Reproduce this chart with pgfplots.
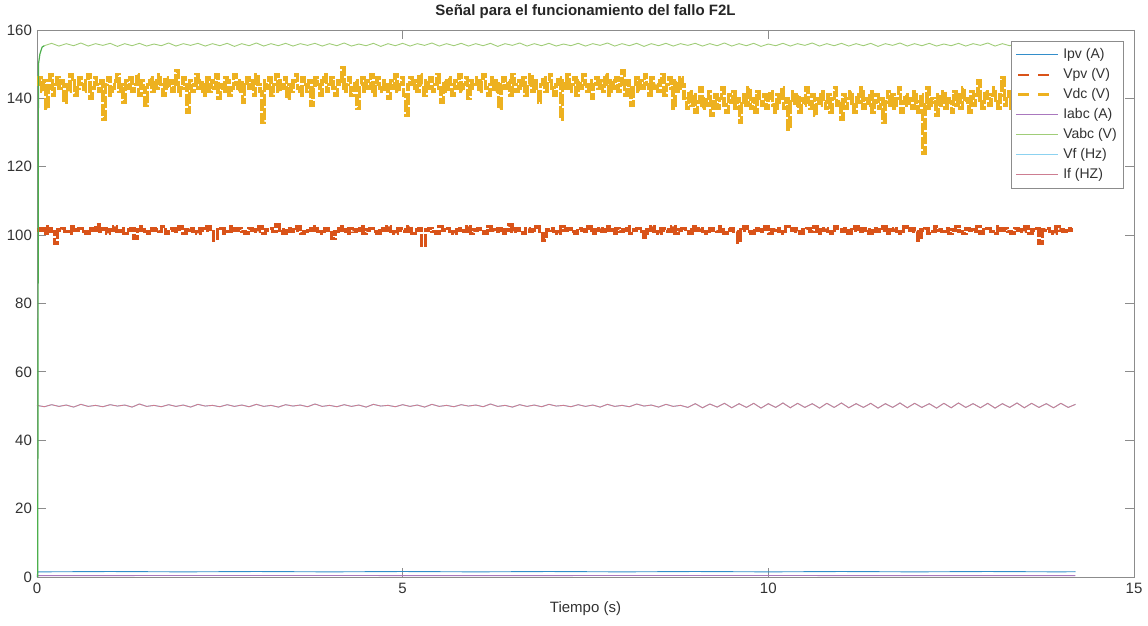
\documentclass[border=0pt]{standalone}
\usepackage{pgfplots}
\pgfplotsset{compat=1.18}
\usepackage{pgfplotstable}
\usepackage{fontspec}
\setmainfont{Liberation Sans}
\definecolor{cIpv}{RGB}{0,114,189}
\definecolor{cVpv}{RGB}{217,83,25}
\definecolor{cVdc}{RGB}{237,177,32}
\definecolor{cIabc}{RGB}{170,120,190}
\definecolor{cVabc}{RGB}{160,205,120}
\definecolor{cVf}{RGB}{140,210,240}
\definecolor{cIf}{RGB}{205,125,145}
\definecolor{axgray}{RGB}{140,140,140}
\definecolor{txtgray}{RGB}{50,50,50}

% Vabc ripple, dt = 0.1 s from 0.1 s
\pgfplotstableread[header=false,row sep=\\]{
155.4\\156.1\\155.3\\156.0\\155.4\\156.2\\155.3\\156.0\\155.5\\156.1\\
155.2\\156.0\\155.4\\156.1\\155.3\\155.9\\155.4\\156.2\\155.3\\156.0\\
155.5\\156.1\\155.3\\156.0\\155.4\\156.1\\155.2\\156.0\\155.4\\156.2\\
155.3\\156.0\\155.4\\156.1\\155.3\\156.0\\155.5\\156.1\\155.3\\156.0\\
155.4\\156.2\\155.3\\155.9\\155.4\\156.1\\155.2\\156.0\\155.4\\156.1\\
155.3\\156.0\\155.5\\156.2\\155.3\\156.0\\155.4\\156.1\\155.3\\156.0\\
155.4\\156.1\\155.2\\156.0\\155.5\\156.2\\155.3\\156.0\\155.4\\156.1\\
155.3\\155.9\\155.4\\156.1\\155.3\\156.0\\155.5\\156.2\\155.3\\156.0\\
155.4\\156.1\\155.2\\156.0\\155.4\\156.1\\155.3\\156.0\\155.5\\156.1\\
155.3\\156.0\\155.4\\156.2\\155.3\\156.0\\155.4\\156.1\\155.2\\155.9\\
155.4\\156.1\\155.3\\156.0\\155.5\\156.2\\155.3\\156.0\\155.4\\156.1\\
155.3\\156.0\\155.4\\156.1\\155.2\\156.0\\155.5\\156.2\\155.3\\156.0\\
155.4\\156.1\\155.3\\155.9\\155.4\\156.1\\155.3\\156.0\\155.5\\156.2\\
155.3\\156.0\\155.4\\156.1\\155.2\\156.0\\155.4\\156.1\\155.3\\156.0\\
155.4\\
}\vabc

% If / Vf near 50 Hz, dt = 0.1 s
\pgfplotstableread[header=false,row sep=\\]{
50.2\\49.8\\50.4\\49.9\\50.3\\49.7\\50.5\\49.9\\50.2\\49.8\\
50.4\\50.0\\50.3\\49.7\\50.6\\49.9\\50.2\\49.8\\50.4\\49.9\\
50.3\\49.7\\50.5\\50.0\\50.2\\49.8\\50.4\\49.9\\50.3\\49.8\\
50.5\\49.9\\50.2\\49.7\\50.4\\50.0\\50.3\\49.8\\50.6\\49.9\\
50.2\\49.8\\50.4\\49.9\\50.3\\49.7\\50.5\\50.0\\50.2\\49.8\\
50.4\\49.9\\50.3\\49.7\\50.5\\49.9\\50.2\\49.8\\50.4\\50.0\\
50.3\\49.8\\50.6\\49.9\\50.2\\49.7\\50.4\\49.9\\50.3\\49.8\\
50.5\\50.0\\50.2\\49.8\\50.4\\49.9\\50.3\\49.7\\50.5\\49.9\\
50.2\\49.8\\50.6\\50.0\\50.3\\49.7\\50.5\\49.9\\50.2\\49.6\\
50.7\\49.5\\50.6\\49.7\\50.8\\49.5\\50.7\\49.6\\50.8\\49.4\\
50.7\\49.6\\50.9\\49.5\\50.8\\49.6\\50.7\\49.4\\50.8\\49.6\\
50.9\\49.5\\50.7\\49.6\\50.8\\49.4\\50.7\\49.6\\50.9\\49.5\\
50.8\\49.6\\50.7\\49.4\\50.8\\49.5\\50.9\\49.6\\50.7\\49.5\\
50.8\\49.4\\50.7\\49.6\\50.9\\49.5\\50.8\\49.6\\50.7\\49.5\\
50.8\\49.6\\50.5\\
}\hz

\begin{document}
\begin{tikzpicture}
\useasboundingbox (-18.5pt,-24.5pt) rectangle (555.5pt,288.5pt);
\begin{axis}[
  scale only axis,
  width=548.5pt, height=273.5pt,
  xmin=0, xmax=15, ymin=0, ymax=160,
  xtick={0,5,10,15}, ytick={0,20,...,160},
  tick align=inside,
  major tick length=4.5pt,
  axis line style={axgray},
  every tick/.style={axgray, line width=0.4pt},
  tick label style={font=\fontsize{7.5}{9}\selectfont, text=txtgray},
  /pgf/number format/assume math mode=true,
  xticklabel style={yshift=0.5pt},
  yticklabel style={xshift=1pt},
  title={Señal para el funcionamiento del fallo F2L},
  title style={font=\bfseries\fontsize{7.5}{9}\selectfont, text=black!85, yshift=-4pt},
  xlabel={Tiempo (s)},
  xlabel style={font=\fontsize{7.5}{9}\selectfont, text=txtgray, yshift=3pt},
  legend style={at={(0.991,0.98)}, anchor=north east, draw=axgray, line width=0.4pt,
    font=\fontsize{7}{8}\selectfont, text=txtgray, row sep=-0.6pt, inner sep=1.5pt,
    cells={anchor=west}},
  legend image code/.code={\draw[#1] (0pt,0pt) -- (21pt,0pt);},
]
% Ipv
\addplot[cIpv!80, line width=0.45pt] coordinates {(0,0) (0.01,1.5) (1,1.6) (2,1.5) (3,1.6) (4,1.5) (5,1.6) (6,1.5) (7,1.6) (8,1.5) (9,1.6) (10,1.5) (11,1.6) (12,1.5) (13,1.6) (14,1.5) (14.2,1.55)};
\addlegendentry{Ipv (A)}
% Vpv, dt = 0.0474 s
\addplot[const plot, cVpv, line width=1.7pt, dash pattern=on 6pt off 1pt,
  legend image post style={line width=1.3pt, dash pattern=on 5.5pt off 4.5pt, dash phase=-1pt}] table[header=false, row sep=\\, x expr=\coordindex*0.0474, y index=0] {
101.5\\102\\100.5\\102.5\\101\\97.5\\101.5\\102\\101\\100.5\\102.5\\101.5\\102\\101\\100.5\\102\\101.5\\103\\101\\102\\
100.5\\101.5\\102.5\\101\\102\\100.5\\101.5\\102\\99\\101.5\\102.5\\101\\100.5\\102\\101.5\\101\\102.5\\100.5\\101.5\\102\\
101\\102.5\\100.5\\101.5\\102\\101\\100.5\\102\\101.5\\102.5\\101\\98.5\\101.5\\102\\100.5\\101\\102.5\\101.5\\102\\101\\
100.5\\102\\101.5\\101\\102.5\\100.5\\101.5\\102\\101\\103\\101.5\\100.5\\102\\101\\101.5\\102.5\\100.5\\101\\102\\101.5\\
102.5\\101\\100.5\\102\\101.5\\99\\101\\102.5\\101.5\\100.5\\102\\101\\101.5\\102.5\\100.5\\101.5\\102\\101\\100.5\\102\\
101.5\\102.5\\101\\100.5\\102\\101.5\\101\\102.5\\100.5\\101.5\\102\\97\\101.5\\102\\101\\100.5\\102.5\\101.5\\102\\101\\
100.5\\101.5\\102\\101\\102.5\\100.5\\101.5\\102\\101\\100.5\\102.5\\101.5\\101\\102\\100.5\\101.5\\103\\101\\102\\101.5\\
100.5\\102\\101\\101.5\\102.5\\100.5\\98.5\\101.5\\102\\101\\100.5\\102.5\\101.5\\102\\101\\100.5\\102\\101.5\\101\\102.5\\
100.5\\101.5\\102\\101\\102.5\\101.5\\100.5\\102\\101\\101.5\\102.5\\100.5\\101.5\\102\\101\\99.5\\101.5\\102.5\\101\\100.5\\
102\\101.5\\101\\102.5\\100.5\\101.5\\102\\101\\100.5\\102.5\\101.5\\102\\101\\100.5\\102\\101.5\\101\\102.5\\100.5\\101.5\\
102\\101\\98\\101.5\\102.5\\101\\100.5\\102\\101.5\\101\\102.5\\100.5\\101.5\\102\\101\\100.5\\102.5\\101.5\\102\\101\\
100.5\\101.5\\102\\101\\102.5\\100.5\\101.5\\102\\101\\100.5\\102.5\\101.5\\101\\102\\100.5\\101.5\\102.5\\101\\102\\101.5\\
100.5\\102\\101\\101.5\\102.5\\100.5\\101.5\\102\\101\\100.5\\102.5\\101.5\\102\\101\\98.5\\101.5\\102\\100.5\\101\\102.5\\
101.5\\101\\102\\100.5\\101.5\\102.5\\101\\100.5\\102\\101.5\\101\\102.5\\100.5\\101.5\\102\\101\\100.5\\102.5\\101.5\\102\\
101\\100.5\\102\\101.5\\101\\102.5\\100.5\\101.5\\102\\97.5\\101.5\\102\\101\\100.5\\102.5\\101.5\\101\\102\\101.5\\101.5\\
};
\addlegendentry{Vpv (V)}
% Vdc, dt = 0.0302 s
\addplot[const plot, cVdc, line width=1.8pt, dash pattern=on 6pt off 1pt,
  legend image post style={line width=1.3pt, dash pattern=on 5.5pt off 4.5pt, dash phase=-1pt}] table[header=false, row sep=\\, x expr=\coordindex*0.0302, y index=0] {
144\\146\\142\\145\\137\\143\\147\\141\\144\\146\\143\\145\\139\\144\\142\\147\\145\\141\\143\\146\\
144\\142\\145\\147\\140\\143\\146\\144\\142\\145\\134\\144\\146\\141\\143\\145\\147\\142\\144\\139\\
145\\143\\146\\142\\144\\147\\141\\145\\143\\138\\144\\146\\142\\145\\143\\147\\144\\141\\146\\143\\
145\\142\\144\\148\\141\\143\\146\\144\\136\\145\\142\\144\\147\\143\\145\\141\\144\\146\\142\\145\\
143\\147\\140\\144\\142\\146\\145\\141\\143\\147\\144\\142\\145\\139\\144\\146\\143\\145\\141\\147\\
144\\142\\133\\145\\143\\146\\141\\144\\147\\142\\145\\143\\146\\140\\144\\142\\145\\147\\143\\141\\
146\\144\\142\\145\\138\\143\\146\\144\\141\\145\\147\\142\\144\\146\\143\\141\\145\\144\\149\\142\\
144\\146\\141\\143\\145\\137\\144\\146\\142\\145\\143\\147\\141\\144\\146\\143\\142\\145\\144\\140\\
145\\143\\147\\142\\144\\146\\141\\135\\144\\146\\143\\145\\142\\147\\144\\141\\145\\143\\146\\142\\
144\\147\\143\\139\\145\\142\\146\\144\\141\\145\\143\\147\\142\\144\\146\\140\\145\\143\\144\\146\\
142\\145\\147\\143\\141\\144\\146\\142\\145\\137\\144\\146\\143\\145\\141\\147\\144\\142\\145\\143\\
146\\141\\144\\147\\142\\145\\143\\139\\144\\146\\142\\145\\147\\143\\141\\144\\146\\134\\145\\143\\
147\\142\\144\\146\\141\\145\\143\\147\\144\\142\\145\\140\\144\\146\\143\\145\\142\\147\\144\\141\\
145\\143\\146\\142\\144\\148\\141\\145\\143\\138\\144\\146\\142\\145\\143\\147\\144\\141\\146\\143\\
144\\142\\145\\147\\141\\144\\146\\143\\137\\145\\142\\146\\144\\
140\\137\\142\\138\\141\\136\\139\\143\\137\\140\\138\\142\\135\\139\\141\\137\\140\\143\\138\\136\\
141\\139\\142\\137\\140\\133\\139\\141\\138\\143\\137\\140\\136\\142\\139\\138\\141\\137\\140\\142\\
138\\136\\141\\139\\143\\137\\140\\131\\139\\142\\138\\141\\136\\140\\138\\143\\139\\137\\141\\135\\
140\\138\\142\\139\\137\\141\\136\\140\\143\\138\\139\\134\\141\\137\\140\\142\\138\\136\\141\\139\\
143\\137\\140\\138\\142\\136\\139\\141\\137\\140\\133\\139\\142\\138\\141\\137\\140\\143\\136\\139\\
141\\138\\140\\137\\142\\139\\136\\141\\124\\138\\143\\137\\140\\139\\135\\141\\138\\142\\137\\140\\
139\\136\\142\\138\\141\\137\\143\\139\\140\\136\\142\\138\\141\\145\\139\\137\\142\\140\\138\\141\\
143\\139\\137\\141\\146\\138\\140\\142\\137\\141\\139\\143\\136\\140\\142\\138\\141\\139\\137\\140\\
142\\138\\141\\139\\136\\140\\142\\138\\141\\139\\137\\142\\140\\138\\141\\139\\140\\
};
\addlegendentry{Vdc (V)}
% Iabc
\addplot[cIabc, line width=0.45pt] coordinates {(0,0) (0.01,0.4) (3,0.45) (6,0.4) (9,0.45) (12,0.4) (14.2,0.4)};
\addlegendentry{Iabc (A)}
% Vabc
\addplot[cVabc, line width=0.45pt] table[x expr=0.1+\coordindex*0.1, y index=0] {\vabc};
\addlegendentry{Vabc (V)}
% Vf
\addplot[cVf, line width=0.45pt] table[x expr=\coordindex*0.1, y index=0] {\hz};
\addlegendentry{Vf (Hz)}
% If
\addplot[cIf, line width=0.45pt] table[x expr=\coordindex*0.1, y index=0] {\hz};
\addlegendentry{If (HZ)}
% Vabc initial rise
\addplot[forget plot, green!55!black!70, line width=0.6pt] coordinates {(0.01,0) (0.02,150) (0.04,153) (0.07,155) (0.1,155.4)};
\end{axis}
\end{tikzpicture}
\end{document}
